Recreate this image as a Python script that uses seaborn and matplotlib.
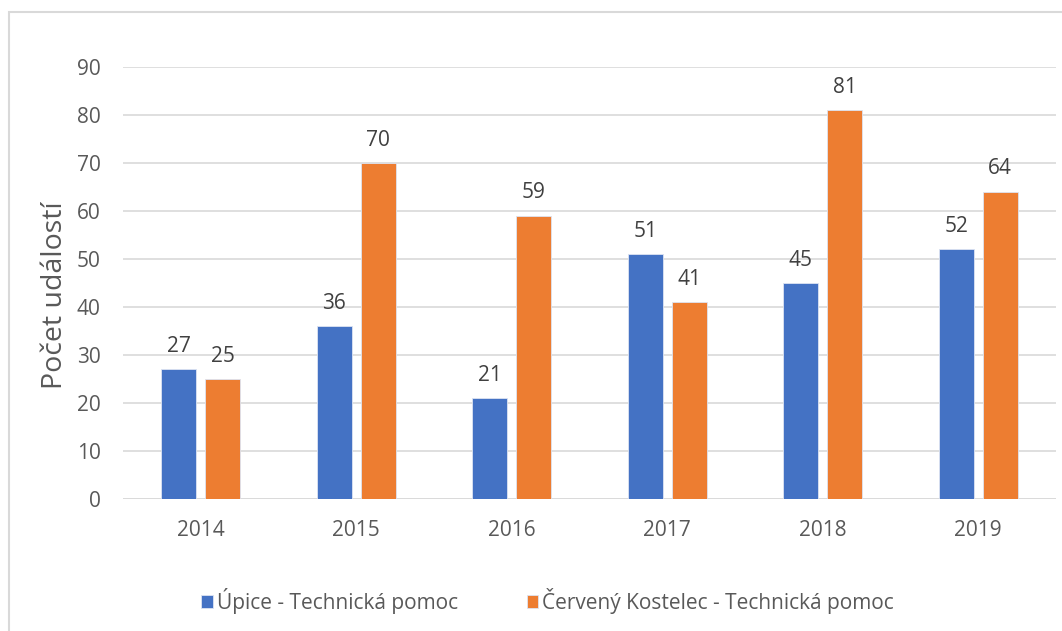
import pandas as pd
import numpy as np
import seaborn as sns
from matplotlib import pyplot as plt
from matplotlib.patches import Rectangle

years = ['2014', '2015', '2016', '2017', '2018', '2019']
upice = [27, 36, 21, 51, 45, 52]
kostelec = [25, 70, 59, 41, 81, 64]
series_names = ['Úpice - Technická pomoc', 'Červený Kostelec - Technická pomoc']
colors = ['#4472C4', '#ED7D31']

df = pd.DataFrame({
    'rok': years * 2,
    'pocet': upice + kostelec,
    'serie': [series_names[0]] * len(years) + [series_names[1]] * len(years),
})

sns.set_theme(style='white')
plt.rcParams['font.family'] = ['Open Sans', 'DejaVu Sans']

W, H = 1062, 631
fig = plt.figure(figsize=(W / 100, H / 100), dpi=100)
ax = fig.add_axes([123 / W, 1 - 499 / H, (1056 - 123) / W, (499 - 67) / H])

sns.barplot(data=df, x='rok', y='pocet', hue='serie', palette=colors,
            saturation=1, width=0.566, gap=0.2, ax=ax, legend=True,
            edgecolor='#DDE4F2', linewidth=0.6)

ax.set_ylim(0, 90)
ax.set_yticks(np.arange(0, 91, 10))
ax.yaxis.grid(True, color='#D9D9D9', linewidth=1.2)
ax.set_axisbelow(True)
for s in ax.spines.values():
    s.set_visible(False)
ax.axhline(0, color='#D9D9D9', linewidth=1.2, zorder=0)
ax.tick_params(axis='both', length=0, labelsize=15, colors='#595959')
ax.tick_params(axis='y', pad=16)
ax.tick_params(axis='x', pad=15)
ax.set_xlabel('')
ax.set_ylabel('Počet událostí', fontsize=20.5, color='#595959')
ax.yaxis.set_label_coords((69 - 123) / (1056 - 123), 0.5 - 12 / 432)

for cont in ax.containers:
    ax.bar_label(cont, fmt='%d', padding=9, fontsize=15, color='#404040')

handles, labels = ax.get_legend_handles_labels()
fig.legend(handles, labels, loc='center', bbox_to_anchor=(547.5 / W, 1 - 601 / H),
           ncol=2, frameon=False, fontsize=15, labelcolor='#595959',
           handlelength=0.55, handleheight=0.55, handletextpad=0.2, columnspacing=3.3)
ax.get_legend().remove()

fig.patches.append(Rectangle((9 / W, -0.05), 1.2, 1 - 12 / H + 0.05,
                             transform=fig.transFigure, fill=False,
                             edgecolor='#D9D9D9', linewidth=1.5))

plt.savefig('out.png', dpi=100)
